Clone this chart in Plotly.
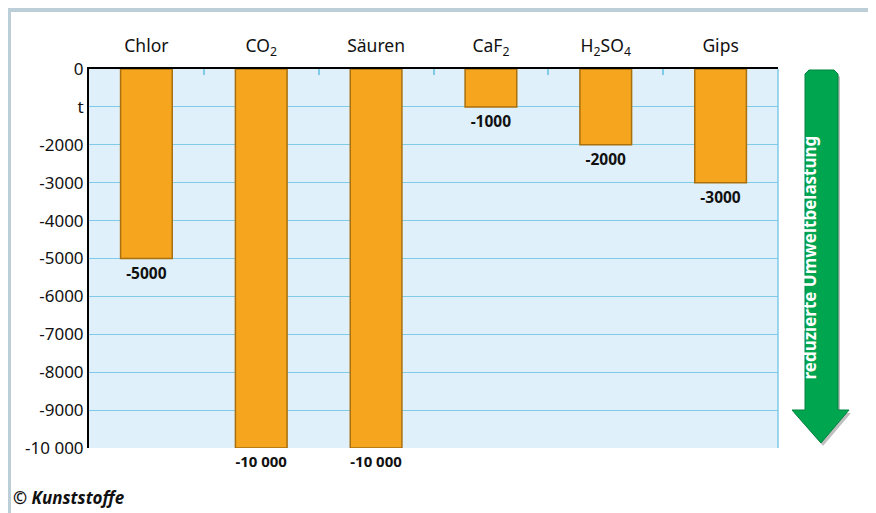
import plotly.graph_objects as go

categories = ["Chlor", "CO<sub>2</sub>", "Säuren", "CaF<sub>2</sub>", "H<sub>2</sub>SO<sub>4</sub>", "Gips"]
values = [-5000, -10000, -10000, -1000, -2000, -3000]
value_labels = ["-5000", "-10 000", "-10 000", "-1000", "-2000", "-3000"]
y_tickvals = [0, -1000, -2000, -3000, -4000, -5000, -6000, -7000, -8000, -9000, -10000]
y_ticktext = ["0", "t", "-2000", "-3000", "-4000", "-5000", "-6000", "-7000", "-8000", "-9000", "-10 000"]

W, H = 876, 513
OFF = 8  # page body margin
L, R, T, B = 89 - OFF, 778 - OFF, 69 - OFF, 448 - OFF
FONT = "Noto Sans"

def px(x):
    return (x - OFF - L) / (R - L)

def py(y):
    return (B - (y - OFF)) / (B - T)

fig = go.Figure()
fig.add_trace(go.Bar(
    x=categories, y=values, width=0.45,
    marker=dict(color="#f6a51e", line=dict(color="#a8700f", width=1.5)),
    text=value_labels, textposition="outside", cliponaxis=False,
    textfont=dict(family=FONT, size=15.5, color="#111111", weight="bold"),
    hoverinfo="skip",
))

shapes = []
# outer frame
shapes.append(dict(type="rect", xref="paper", yref="paper",
                   x0=px(8.5), x1=px(872.5), y0=py(540), y1=py(9.5),
                   line=dict(color="#bccfd8", width=5), fillcolor="rgba(0,0,0,0)", layer="below"))
# right edge of plot area
shapes.append(dict(type="line", xref="paper", yref="paper", x0=1, x1=1, y0=0, y1=1,
                   line=dict(color="#7fcbe8", width=1.5)))

def arrow_path(dx=0, dy=0):
    pts = [(805, 74), (809, 70), (834, 70), (838, 74), (838, 410), (849, 410), (821, 443), (792, 410), (805, 410)]
    return "M " + " L ".join(f"{px(x+dx):.5f},{py(y+dy):.5f}" for x, y in pts) + " Z"
shapes.append(dict(type="path", xref="paper", yref="paper", path=arrow_path(2, 3),
                   fillcolor="rgba(0,0,0,0.25)", line=dict(width=0)))
shapes.append(dict(type="path", xref="paper", yref="paper", path=arrow_path(),
                   fillcolor="#00a550", line=dict(color="#00843f", width=1)))

annotations = [
    dict(xref="paper", yref="paper", x=px(822), y=py(258), text="reduzierte Umweltbelastung",
         textangle=-90, showarrow=False, font=dict(family=FONT, size=17, color="white", weight="bold")),
    dict(xref="paper", yref="paper", x=px(11), y=py(497), xanchor="left", yanchor="middle",
         text="<b><i>© Kunststoffe</i></b>", showarrow=False, font=dict(family=FONT, size=17, color="#111111")),
]

fig.update_layout(
    width=W, height=H,
    margin=dict(l=L, r=W - R, t=T, b=H - B),
    paper_bgcolor="white", plot_bgcolor="#dff0fa",
    showlegend=False,
    shapes=shapes, annotations=annotations,
    font=dict(family=FONT, size=17, color="#111111"),
    xaxis=dict(side="top", showline=True, linecolor="black", linewidth=2,
               ticks="inside", tickson="boundaries", ticklen=6, tickcolor="#7fcbe8", tickwidth=1.5,
               tickfont=dict(family=FONT, size=17.5, color="#111111"), showgrid=False,
               ticklabelstandoff=8, fixedrange=True),
    yaxis=dict(range=[-10000, 0], tickvals=y_tickvals, ticktext=y_ticktext,
               showline=True, linecolor="black", linewidth=2, ticks="",
               showgrid=True, gridcolor="#7fcbe8", gridwidth=1.2, zeroline=False,
               tickfont=dict(family=FONT, size=17, color="#111111"), fixedrange=True),
)

fig.write_html("out.html")
